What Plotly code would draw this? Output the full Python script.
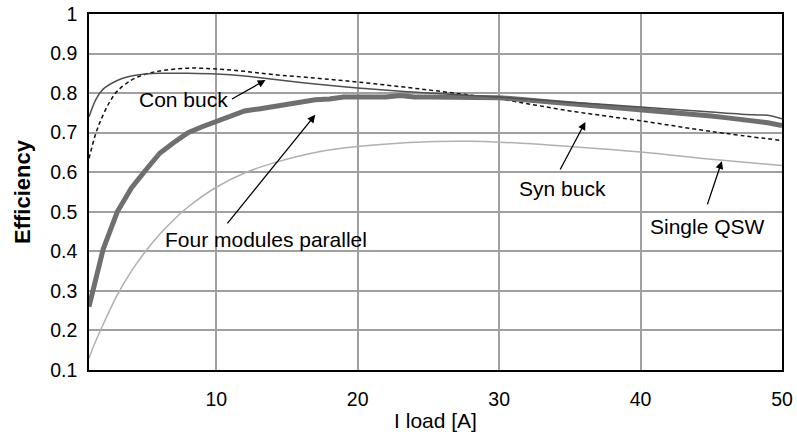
import plotly.graph_objects as go

# ---- data ----
con_x = [1, 1.5, 2, 3, 4, 5, 6, 8, 10, 12, 14, 17, 20, 25, 30, 35, 40, 45, 48, 49, 50]
con_y = [0.74, 0.785, 0.81, 0.832, 0.843, 0.848, 0.85, 0.85, 0.848, 0.843, 0.835, 0.823,
         0.813, 0.80, 0.79, 0.777, 0.765, 0.752, 0.745, 0.744, 0.735]

syn_x = [1, 1.5, 2, 2.5, 3, 4, 5, 6, 8, 10, 12, 14, 17, 20, 25, 30, 35, 40, 45, 50]
syn_y = [0.635, 0.70, 0.745, 0.78, 0.805, 0.833, 0.848, 0.856, 0.863, 0.861, 0.855, 0.847,
         0.838, 0.828, 0.808, 0.785, 0.755, 0.73, 0.703, 0.68]

four_x = list(range(1, 51))
four_y = [0.26, 0.405, 0.50, 0.56, 0.605, 0.648, 0.675, 0.70, 0.715, 0.728,
          0.742, 0.755, 0.76, 0.766, 0.772, 0.778, 0.783, 0.785, 0.79, 0.79,
          0.79, 0.79, 0.794, 0.79, 0.79, 0.79, 0.79, 0.79, 0.79, 0.788,
          0.786, 0.783, 0.781, 0.778, 0.775, 0.772, 0.769, 0.766, 0.762, 0.757,
          0.754, 0.751, 0.748, 0.745, 0.742, 0.738, 0.734, 0.73, 0.725, 0.718]

qsw_x = [1, 1.5, 2, 3, 4, 5, 6, 7, 8, 10, 12, 14, 17, 20, 25, 28, 30, 35, 40, 45, 50]
qsw_y = [0.13, 0.175, 0.215, 0.29, 0.35, 0.40, 0.443, 0.48, 0.512, 0.562, 0.598, 0.623,
         0.65, 0.665, 0.677, 0.678, 0.676, 0.665, 0.651, 0.633, 0.617]

x_ticks = [10, 20, 30, 40, 50]
y_ticks = [0.1, 0.2, 0.3, 0.4, 0.5, 0.6, 0.7, 0.8, 0.9, 1.0]
y_tick_text = ["0.1", "0.2", "0.3", "0.4", "0.5", "0.6", "0.7", "0.8", "0.9", "1"]

# label text, text position, arrow tail, arrow head
labels = ["Con buck", "Four modules parallel", "Syn buck", "Single QSW"]
label_pos = [(7.67, 0.783), (13.52, 0.429), (34.51, 0.558), (44.72, 0.462)]
arrow_tail = [(11.0, 0.783), (10.7, 0.467), (34.26, 0.603), (44.69, 0.515)]
arrow_head = [(13.48, 0.833), (17.0, 0.745), (36.1, 0.727), (45.75, 0.628)]

FONT = "Liberation Sans, Arial, Helvetica, sans-serif"

fig = go.Figure()
fig.add_trace(go.Scatter(x=qsw_x, y=qsw_y, mode="lines", line=dict(color="#b0b0b0", width=1.5, shape="spline"),
                         name="Single QSW"))
fig.add_trace(go.Scatter(x=syn_x, y=syn_y, mode="lines", line=dict(color="#111111", width=1.5, dash="4px,3px", shape="spline"),
                         name="Syn buck"))
fig.add_trace(go.Scatter(x=four_x, y=four_y, mode="lines", line=dict(color="#6f6f6f", width=5),
                         name="Four modules parallel"))
fig.add_trace(go.Scatter(x=con_x, y=con_y, mode="lines", line=dict(color="#505050", width=1.5, shape="spline"),
                         name="Con buck"))

for t, (tx, ty), (ax, ay), (hx, hy) in zip(labels, label_pos, arrow_tail, arrow_head):
    fig.add_annotation(x=tx, y=ty, text=t, showarrow=False, font=dict(family=FONT, size=21, color="#000"))
    fig.add_annotation(x=hx, y=hy, ax=ax, ay=ay, xref="x", yref="y", axref="x", ayref="y",
                       text="", showarrow=True, arrowhead=2, arrowsize=1.2, arrowwidth=1.3, arrowcolor="#000")

fig.update_layout(
    width=797, height=435,
    margin=dict(l=89, r=15, t=14, b=65, autoexpand=False),
    paper_bgcolor="white", plot_bgcolor="white",
    showlegend=False,
    font=dict(family=FONT, size=19.5, color="#000"),
)
fig.update_xaxes(range=[1, 50], tickvals=x_ticks, showgrid=True, gridcolor="#a0a0a0", gridwidth=1.5,
                 showline=True, linecolor="#000", linewidth=1.5, mirror=True, zeroline=False,
                 ticks="", ticklabelstandoff=11, automargin=False,
                 title=dict(text="I load [A]", font=dict(size=21), standoff=4))
fig.update_yaxes(range=[0.1, 1.0], tickvals=y_ticks, ticktext=y_tick_text, showgrid=True, gridcolor="#a0a0a0",
                 gridwidth=1.5, showline=True, linecolor="#000", linewidth=1.5, mirror=True, zeroline=False,
                 ticks="", ticklabelstandoff=6, automargin=False,
                 title=dict(text="<b>Efficiency</b>", font=dict(size=22), standoff=14))

fig.write_html("out.html", config={"displayModeBar": False},
               post_script="document.body.style.margin='0';")
